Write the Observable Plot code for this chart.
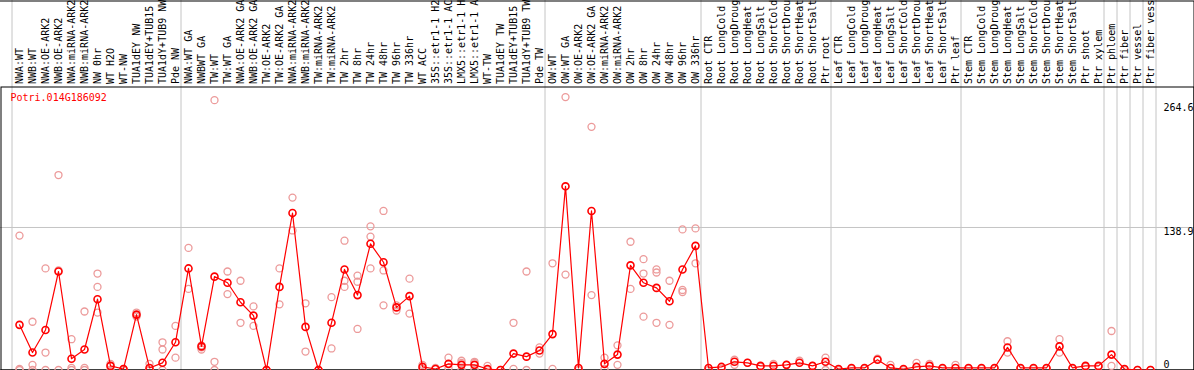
<!DOCTYPE html>
<html><head><meta charset="utf-8">
<script src="https://cdn.jsdelivr.net/npm/d3@7"></script>
<script src="https://cdn.jsdelivr.net/npm/@observablehq/plot@0.6"></script>
<style>
html,body{margin:0;padding:0;background:#fff;}
svg{display:block;}
</style></head><body>
<div id="chart"></div>
<script>
const title = "Potri.014G186092";

const labels = [
  "NWA:WT","NWB:WT","NWA:OE-ARK2","NWB:OE-ARK2","NWA:miRNA-ARK2","NWB:miRNA-ARK2","NW 0hr","WT H2O","WT-NW","TUA1dEY NW","TUA1dEY+TUB15","TUA1dY+TUB9 NW","Pde NW",
  "NWA:WT GA","NWBWT GA","TW:WT","TW:WT GA","NWA:OE-ARK2 GA","NWB:OE-ARK2 GA","TW:OE-ARK2","TW:OE-ARK2 GA","NWA:miRNA-ARK2","NWB:miRNA-ARK2","TW:miRNA-ARK2","TW:miRNA-ARK2",
  "TW 2hr","TW 8hr","TW 24hr","TW 48hr","TW 96hr","TW 336hr","WT ACC","35S::etr1-1 H2","35S::etr1-1 AC","LMX5::etr1-1 H","LMX5::etr1-1 A","WT-TW","TUA1dEY TW","TUA1dEY+TUB15","TUA1dY+TUB9 TW","Pde TW",
  "OW:WT","OW:WT GA","OW:OE-ARK2","OW:OE-ARK2 GA","OW:miRNA-ARK2","OW:miRNA-ARK2","OW 2hr","OW 8hr","OW 24hr","OW 48hr","OW 96hr","OW 336hr",
  "Root CTR","Root LongCold","Root LongDroug","Root LongHeat","Root LongSalt","Root ShortCold","Root ShortDrou","Root ShortHeat","Root ShortSalt","Ptr root",
  "Leaf CTR","Leaf LongCold","Leaf LongDroug","Leaf LongHeat","Leaf LongSalt","Leaf ShortCold","Leaf ShortDrou","Leaf ShortHeat","Leaf ShortSalt","Ptr leaf",
  "Stem CTR","Stem LongCold","Stem LongDroug","Stem LongHeat","Stem LongSalt","Stem ShortCold","Stem ShortDrou","Stem ShortHeat","Stem ShortSalt","Ptr shoot","Ptr xylem",
  "Ptr phloem","Ptr fiber","Ptr vessel","Ptr fiber vess"
];

const means = [
  44,17,39,96,11,20,69,4,1,54,2,7,27,
  99,23,91,85,66,53,0,81,153,42,0,46,
  98,73,123,105,61,72,3,1,6,5,5,1,0,16,13,19,
  35,179,2,155,6,15,102,85,80,67,98,121,
  2,3,8,7,4,4,5,7,4,8,
  1,2,2,10,2,1,3,4,2,2,
  2,2,2,22,2,2,2,23,2,4,4,
  15,1,0,0
];

const reps = [
  [131,1,0],[47,5,0],[99,17,0],[190,97,0],[30,2,0],[57,2,0],[94,81,56],[6,4,0],[1,0,0],[56,53,52],[6,0,0],[27,20,0],[43,12],
  [119,79],[24,22,20],[263,8,0],[96,74],[87,46],[62,43],[0,0],[99,64],[168,136],[65,18],[0,0],[71,21],
  [126,87,81],[92,86,40],[140,130,99],[155,97,63],[63,58],[89,55],[5,1],[2,1],[12,2],[9,7,0],[8,7,1],[4,0],[0],[46,1],[96,0],[22,16],
  [104,1],[266,93],[0],[237,73],[12,1],[24,5],[125,79],[108,94,52],[98,95,46],[87,44],[137,78,76],[138,104],
  [0],[1],[10,5],[7],[3],[6],[5],[9],[4],[12,0],
  [0],[1],[1],[11],[5],[0],[7],[6],[1],[5],
  [1],[1],[1],[28,17],[1],[1],[1],[30,17],[1],[3],[3],
  [38,4],[0],[0],[0]
];

// index of first column of each group (last entry = end)
const groupStarts = [0,13,41,53,63,73,84,85,86,87,88];

const yTop = 264.6, yMid = 138.9, yZero = 0;

const repData = reps.flatMap((arr, i) => arr.map(v => ({i, v})));
const meanData = means.map((v, i) => ({i, v}));

const font = "DejaVu Sans Mono";
const grey = "#c4c4c4";

const chart = Plot.plot({
  width: 1194,
  height: 370,
  marginTop: 86,
  marginBottom: 0,
  marginLeft: 0,
  marginRight: 0,
  style: {fontFamily: font, fontSize: "10px", background: "white", overflow: "visible"},
  x: {type: "linear", domain: [0, labels.length - 1], range: [19, 1150], axis: null},
  y: {type: "linear", domain: [0, yTop], range: [369.5, 98], axis: null},
  marks: [
    Plot.ruleX(groupStarts, {x: d => d, dx: -7.5, stroke: grey, strokeWidth: 1, insetTop: -86}),
    Plot.ruleY([yMid], {stroke: grey, strokeWidth: 1}),
    Plot.frame({stroke: "black", strokeWidth: 1, inset: 0.5, insetTop: -85.5, insetLeft: -3}),
    Plot.frame({stroke: "black", strokeWidth: 1, inset: 0.5}),
    Plot.text(labels, {x: (d, i) => i, text: d => d, frameAnchor: "top", dy: -2.5, rotate: -90,
      textAnchor: "start", lineAnchor: "middle", fill: "black", fontFamily: font, fontSize: 10}),
    Plot.text([title], {frameAnchor: "top-left", dx: 10, dy: 7, textAnchor: "start", lineAnchor: "top",
      fill: "red", fontFamily: font, fontSize: 10}),
    Plot.text([yTop], {y: d => d, text: d => String(d), frameAnchor: "right", dx: -31, dy: 5,
      textAnchor: "start", lineAnchor: "top", fill: "black", fontFamily: font, fontSize: 10}),
    Plot.text([yMid], {y: d => d, text: d => String(d), frameAnchor: "right", dx: -31, dy: 0,
      textAnchor: "start", lineAnchor: "top", fill: "black", fontFamily: font, fontSize: 10}),
    Plot.text([yZero], {y: d => d, text: d => String(d), frameAnchor: "right", dx: -31, dy: -2,
      textAnchor: "start", lineAnchor: "bottom", fill: "black", fontFamily: font, fontSize: 10}),
    Plot.dot(repData, {x: "i", y: "v", r: 3.5, stroke: "#ec9a9a", strokeWidth: 1.3, fill: "none"}),
    Plot.line(meanData, {x: "i", y: "v", stroke: "red", strokeWidth: 1.2}),
    Plot.dot(meanData, {x: "i", y: "v", r: 3.5, stroke: "red", strokeWidth: 1.6, fill: "none"})
  ]
});
document.getElementById("chart").appendChild(chart);
</script></body></html>
